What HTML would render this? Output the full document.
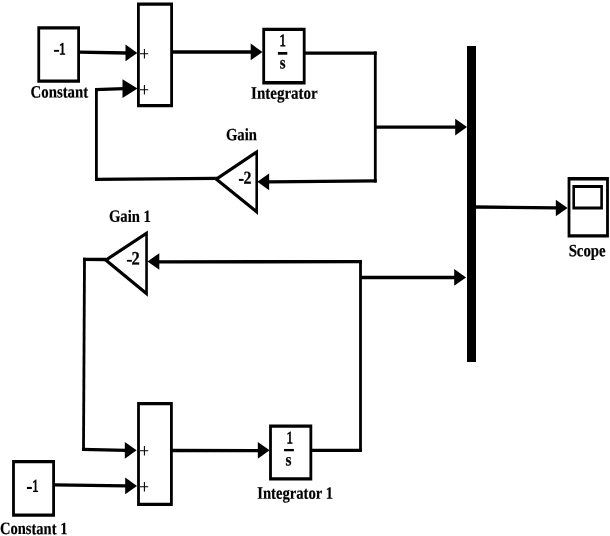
<!DOCTYPE html>
<html><head><meta charset="utf-8"><style>
html,body{margin:0;padding:0;background:#fff;width:610px;height:536px;overflow:hidden}
svg{display:block;will-change:transform}
text{font-family:"Liberation Serif",serif;fill:#000}
</style></head><body>
<svg width="610" height="536" viewBox="0 0 610 536">
<rect width="610" height="536" fill="#fff"/>
<path fill-rule="evenodd" d="M37.35 26.2H80V82.8H37.35ZM40.15 29.5V79.5H77.2V29.5Z"/>
<rect x="53.95" y="49.9" width="5.15" height="1.85"/>
<text transform="matrix(1,0.001,0,1,0,-0.0589)" x="58.88" y="54.32" font-size="16.95" font-weight="normal" stroke="#000" stroke-width="0.85" textLength="6.68" lengthAdjust="spacingAndGlyphs">1</text>
<text transform="matrix(1,0.001,0,1,0,-0.0306)" x="30.56" y="97.53" font-size="17.40" font-weight="bold" stroke="#000" stroke-width="0.2" textLength="57.61" lengthAdjust="spacingAndGlyphs">Constant</text>
<polygon points="79,50.55 127,51.35 127,54.65 79,53.85"/>
<polygon points="137.3,52.9 125.5,44.55 125.5,61.25"/>
<path fill-rule="evenodd" d="M137 2.5H173V107.2H137ZM139.8 5.8V103.9H170.2V5.8Z"/>
<path d="M144.4 49V58.55M140 53.8H148.2" stroke="#000" stroke-width="1.05" fill="none"/>
<path d="M144.4 85V94.55M140 89.8H148.2" stroke="#000" stroke-width="1.05" fill="none"/>
<polygon points="172,50.35 252,50.35 252,53.65 172,53.65"/>
<polygon points="262.5,51.9 250.7,43.55 250.7,60.25"/>
<path fill-rule="evenodd" d="M262.3 27.7H305.6V84.4H262.3ZM265.1 31V81.1H302.8V31Z"/>
<text transform="matrix(1,0.001,0,1,0,-0.2794)" x="279.38" y="46.13" font-size="17.30" font-weight="normal" stroke="#000" stroke-width="0.85" textLength="6.36" lengthAdjust="spacingAndGlyphs">1</text>
<polygon points="277.9,52 287.3,52 287.3,54.7 277.9,54.7"/>
<text transform="matrix(1,0.001,0,1,0,-0.2799)" x="279.86" y="68.54" font-size="18.07" font-weight="bold" stroke="#000" stroke-width="0.25" textLength="5.77" lengthAdjust="spacingAndGlyphs">s</text>
<text transform="matrix(1,0.001,0,1,0,-0.2511)" x="251.10" y="98.65" font-size="17.40" font-weight="bold" stroke="#000" stroke-width="0.2" textLength="66.65" lengthAdjust="spacingAndGlyphs">Integrator</text>
<polygon points="304.6,51.45 376.7,51.45 376.7,54.75 304.6,54.75"/>
<polygon points="373.9,51.45 376.7,51.45 376.7,182.55 373.9,182.55"/>
<polygon points="268,180.25 376.7,179.25 376.7,182.55 268,183.55"/>
<polygon points="257.3,181.8 269.1,173.45 269.1,190.15"/>
<polygon points="375.3,125.55 456,125.45 456,128.75 375.3,128.85"/>
<polygon points="467,127.1 455.2,118.75 455.2,135.45"/>
<path fill-rule="evenodd" d="M213.6 179.05 L258 149.22 L258 214.98Z M218.98 179.29 L255.4 154.82 L255.4 208.76Z"/>
<rect x="238.9" y="178.9" width="4.7" height="2"/>
<text transform="matrix(1,0.001,0,1,0,-0.2434)" x="243.39" y="183.65" font-size="18.23" font-weight="bold" stroke="#000" stroke-width="0.25" textLength="7.95" lengthAdjust="spacingAndGlyphs">2</text>
<text transform="matrix(1,0.001,0,1,0,-0.2259)" x="225.92" y="140.34" font-size="17.40" font-weight="bold" stroke="#000" stroke-width="0.2" textLength="31.03" lengthAdjust="spacingAndGlyphs">Gain</text>
<polygon points="95,177.75 217,176.75 217,180.05 95,181.05"/>
<polygon points="95,88.05 97.8,88.05 97.8,181.05 95,181.05"/>
<polygon points="95,88.05 124,87.05 124,90.35 95,91.35"/>
<polygon points="137.5,88.6 122.5,79.2 122.5,98"/>
<rect x="467" y="46" width="9" height="316"/>
<polygon points="475,205.35 557,206.15 557,209.45 475,208.65"/>
<polygon points="567.6,208 555.8,199.65 555.8,216.35"/>
<path fill-rule="evenodd" d="M567.6 177.1H608.9V237.5H567.6ZM570.4 180.4V234.2H606.1V180.4Z"/>
<path fill-rule="evenodd" d="M572.4 184.9H602.9V209.6H572.4ZM575 188V206.5H600.3V188Z"/>
<text transform="matrix(1,0.001,0,1,0,-0.5686)" x="568.64" y="256.15" font-size="17.40" font-weight="bold" stroke="#000" stroke-width="0.2" textLength="37.07" lengthAdjust="spacingAndGlyphs">Scope</text>
<path fill-rule="evenodd" d="M103.17 259.96 L147.85 230.39 L147.85 296.69Z M108.55 260.24 L145.25 235.95 L145.25 290.41Z"/>
<rect x="126.9" y="259.9" width="5" height="1.8"/>
<text transform="matrix(1,0.001,0,1,0,-0.1314)" x="131.45" y="264.64" font-size="18.98" font-weight="bold" stroke="#000" stroke-width="0.25" textLength="8.24" lengthAdjust="spacingAndGlyphs">2</text>
<text transform="matrix(1,0.001,0,1,0,-0.1089)" x="108.91" y="221.87" font-size="17.40" font-weight="bold" stroke="#000" stroke-width="0.2" textLength="42.07" lengthAdjust="spacingAndGlyphs">Gain 1</text>
<polygon points="311.2,448.65 361.9,448.65 361.9,451.95 311.2,451.95"/>
<polygon points="359.1,259.95 361.9,259.95 361.9,451.95 359.1,451.95"/>
<polygon points="158,260.25 361.9,259.95 361.9,263.25 158,263.55"/>
<polygon points="147.5,261.5 159.3,253.15 159.3,269.85"/>
<polygon points="360.5,275.85 455,275.85 455,279.15 360.5,279.15"/>
<polygon points="466,277.4 454.2,269.05 454.2,285.75"/>
<polygon points="83.1,257.7 106,257.85 106,261.15 83.1,261"/>
<polygon points="83.1,257.7 85.9,257.7 84.9,451.05 82.1,451.05"/>
<polygon points="82.1,447.75 126,448.75 126,452.05 82.1,451.05"/>
<polygon points="136.6,450.3 124.8,441.95 124.8,458.65"/>
<path fill-rule="evenodd" d="M137.1 401.9H172.8V506H137.1ZM139.9 405.2V502.7H170V405.2Z"/>
<path d="M144.4 446V455.55M140 450.8H148.2" stroke="#000" stroke-width="1.05" fill="none"/>
<path d="M144.4 482V491.55M140 486.8H148.2" stroke="#000" stroke-width="1.05" fill="none"/>
<polygon points="171.8,448.85 259,448.95 259,452.25 171.8,452.15"/>
<polygon points="269.6,450.3 257.8,441.95 257.8,458.65"/>
<path fill-rule="evenodd" d="M269.1 424.4H312.25V480.6H269.1ZM271.9 427.7V477.3H309.45V427.7Z"/>
<text transform="matrix(1,0.001,0,1,0,-0.2864)" x="286.38" y="443.18" font-size="17.24" font-weight="normal" stroke="#000" stroke-width="0.85" textLength="6.49" lengthAdjust="spacingAndGlyphs">1</text>
<polygon points="284,448.95 293.9,448.95 293.9,451.25 284,451.25"/>
<text transform="matrix(1,0.001,0,1,0,-0.2856)" x="285.61" y="465.55" font-size="18.03" font-weight="bold" stroke="#000" stroke-width="0.25" textLength="5.97" lengthAdjust="spacingAndGlyphs">s</text>
<text transform="matrix(1,0.001,0,1,0,-0.2572)" x="257.18" y="498.81" font-size="17.40" font-weight="bold" stroke="#000" stroke-width="0.2" textLength="75.93" lengthAdjust="spacingAndGlyphs">Integrator 1</text>
<path fill-rule="evenodd" d="M12.1 460H55V516.7H12.1ZM14.9 463.3V513.4H52.2V463.3Z"/>
<rect x="26.9" y="486.9" width="4.95" height="2.1"/>
<text transform="matrix(1,0.001,0,1,0,-0.0323)" x="32.30" y="491.44" font-size="17.45" font-weight="normal" stroke="#000" stroke-width="0.85" textLength="6.23" lengthAdjust="spacingAndGlyphs">1</text>
<text transform="matrix(1,0.001,0,1,0,0.0000)" x="-0.05" y="534.10" font-size="17.40" font-weight="bold" stroke="#000" stroke-width="0.2" textLength="67.45" lengthAdjust="spacingAndGlyphs">Constant 1</text>
<polygon points="54,483.15 126,484.25 126,487.55 54,486.45"/>
<polygon points="137,485.9 125.2,477.55 125.2,494.25"/>
</svg>
</body></html>
